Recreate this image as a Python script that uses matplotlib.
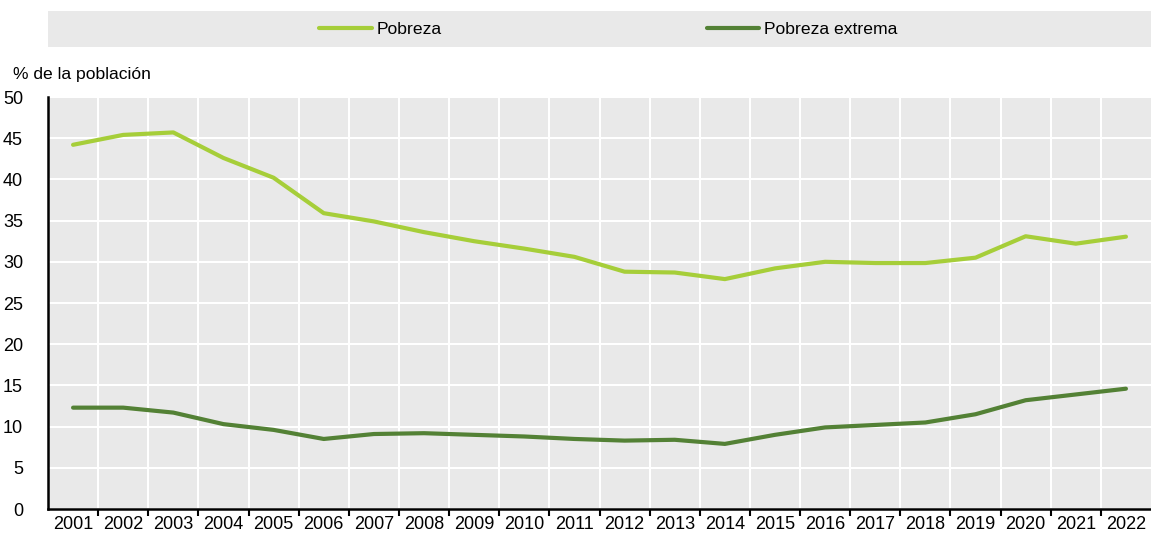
import matplotlib
matplotlib.use("Agg")
import matplotlib.pyplot as plt
from matplotlib.patches import Rectangle
import numpy as np

plt.rcParams['font.family'] = ['Liberation Sans Narrow', 'Liberation Sans', 'DejaVu Sans']

years = [str(y) for y in range(2001, 2023)]
pobreza = [44.2, 45.4, 45.7, 42.6, 40.2, 35.9, 34.9, 33.6, 32.5, 31.6, 30.6,
           28.8, 28.7, 27.9, 29.2, 30.0, 29.85, 29.85, 30.5, 33.1, 32.2, 33.05]
pobreza_extrema = [12.3, 12.3, 11.7, 10.3, 9.6, 8.5, 9.1, 9.2, 9.0, 8.8, 8.5,
                   8.3, 8.4, 7.9, 9.0, 9.9, 10.2, 10.5, 11.5, 13.2, 13.9, 14.6]
series_labels = ["Pobreza", "Pobreza extrema"]
y_label = "% de la población"

c_light = "#A6CE39"
c_dark = "#538135"

W, H = 1151, 536
fig = plt.figure(figsize=(W / 100, H / 100), dpi=100)
ax = fig.add_axes([48 / W, 27 / H, 1 - 48 / W, (509 - 97) / H])
ax.set_facecolor("#E9E9E9")

x = np.arange(len(years))
l1, = ax.plot(x, pobreza, color=c_light, lw=3, solid_capstyle='round', zorder=3, label=series_labels[0])
l2, = ax.plot(x, pobreza_extrema, color=c_dark, lw=3, solid_capstyle='round', zorder=3, label=series_labels[1])

ax.set_xlim(-0.5, len(years) - 0.5)
ax.set_ylim(0, 50)
ax.set_yticks(np.arange(0, 51, 5))
ax.set_xticks(x)
ax.set_xticklabels(years)
ax.set_xticks(np.arange(0.5, len(years) - 0.5, 1), minor=True)
ax.tick_params(axis='x', which='major', length=0, labelsize=13, pad=5)
ax.tick_params(axis='x', which='minor', length=5, width=1.5, color='black', direction='out')
ax.tick_params(axis='y', length=0, labelsize=13, pad=18)
for lab in ax.get_yticklabels():
    lab.set_horizontalalignment('right')

ax.grid(True, axis='y', which='major', color='white', lw=1.5, zorder=1)
ax.grid(True, axis='x', which='minor', color='white', lw=1.5, zorder=1)
ax.set_axisbelow(True)
for s in ['top', 'right']:
    ax.spines[s].set_visible(False)
for s in ['left', 'bottom']:
    ax.spines[s].set_color('black')
    ax.spines[s].set_linewidth(1.8)

fig.text(13 / W, 1 - 75 / H, y_label, fontsize=12.6, ha='left', va='center')

fig.patches.append(Rectangle((48 / W, 1 - 47 / H), 1 - 48 / W, 36 / H,
                             transform=fig.transFigure, facecolor="#E9E9E9",
                             edgecolor='none', zorder=0))
fig.legend(handles=[l1, l2], loc='center', bbox_to_anchor=(608.5 / W, 1 - 29 / H),
           ncol=2, frameon=False, fontsize=12.6, handlelength=3.0,
           handletextpad=0.3, columnspacing=15.1)

fig.savefig("out.png", dpi=100)
